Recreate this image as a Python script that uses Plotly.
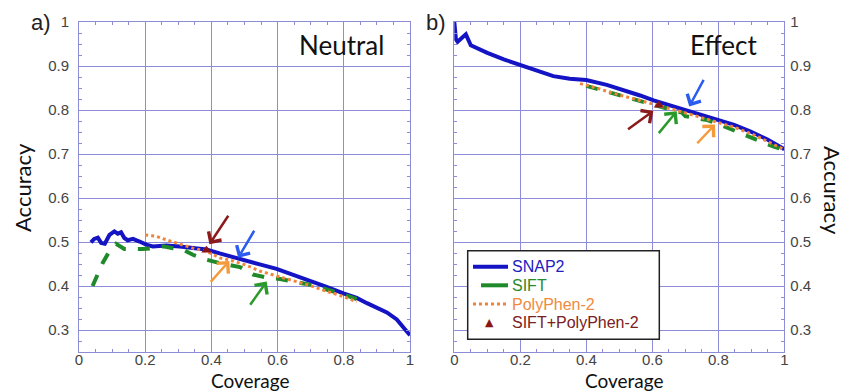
import plotly.graph_objects as go

# ---------------- data ----------------
# Panel a) Neutral
snap2_neu_x = [0.036, 0.046, 0.057, 0.067, 0.078, 0.092, 0.107, 0.117, 0.127, 0.137, 0.147, 0.163, 0.183, 0.203, 0.223,
               0.264, 0.304, 0.344, 0.385, 0.425, 0.466, 0.506, 0.546, 0.597, 0.647, 0.698, 0.748, 0.799, 0.839,
               0.87, 0.90, 0.93, 0.96, 0.98, 1.0]
snap2_neu_y = [0.499, 0.507, 0.510, 0.498, 0.496, 0.516, 0.524, 0.519, 0.522, 0.509, 0.504, 0.507, 0.501, 0.494, 0.490,
               0.492, 0.490, 0.486, 0.483, 0.474, 0.465, 0.458, 0.449, 0.439, 0.426, 0.413, 0.398, 0.383, 0.373,
               0.361, 0.350, 0.340, 0.324, 0.306, 0.288]

sift_neu_x = [0.041, 0.057, 0.072, 0.092, 0.112, 0.137, 0.163, 0.193, 0.223, 0.254, 0.284, 0.314, 0.344, 0.385,
              0.425, 0.466, 0.486, 0.526, 0.567, 0.607, 0.647, 0.698, 0.748, 0.799, 0.839]
sift_neu_y = [0.400, 0.426, 0.453, 0.479, 0.496, 0.484, 0.483, 0.484, 0.486, 0.490, 0.486, 0.483, 0.471, 0.460,
              0.452, 0.446, 0.443, 0.426, 0.419, 0.416, 0.411, 0.403, 0.392, 0.381, 0.370]

pph_neu_x = [0.200, 0.233, 0.264, 0.304, 0.344, 0.385, 0.425, 0.466, 0.506, 0.546, 0.597, 0.647, 0.698, 0.748,
             0.799, 0.839]
pph_neu_y = [0.516, 0.513, 0.505, 0.495, 0.486, 0.479, 0.464, 0.457, 0.447, 0.434, 0.423, 0.413, 0.401, 0.388,
             0.376, 0.364]

combo_neu_x = [0.385]
combo_neu_y = [0.481]

# Panel b) Effect
snap2_eff_x = [0.0, 0.005, 0.01, 0.02, 0.035, 0.05, 0.07, 0.10, 0.15, 0.20, 0.25, 0.30, 0.35, 0.40, 0.462, 0.503,
               0.563, 0.604, 0.665, 0.706, 0.746, 0.802, 0.848, 0.898, 0.949, 1.0]
snap2_eff_y = [1.0, 0.960, 0.955, 0.962, 0.972, 0.947, 0.940, 0.930, 0.915, 0.902, 0.890, 0.877, 0.871, 0.868, 0.857,
               0.848, 0.833, 0.822, 0.808, 0.800, 0.790, 0.778, 0.766, 0.751, 0.733, 0.711]

sift_eff_x = [0.40, 0.462, 0.523, 0.584, 0.624, 0.665, 0.690, 0.700, 0.726, 0.767, 0.807, 0.848, 0.898, 0.939,
              0.970, 1.0]
sift_eff_y = [0.855, 0.843, 0.829, 0.816, 0.807, 0.798, 0.794, 0.786, 0.783, 0.777, 0.766, 0.753, 0.738, 0.726,
              0.716, 0.710]

pph_eff_x = [0.381, 0.431, 0.482, 0.543, 0.604, 0.665, 0.726, 0.787, 0.848, 0.909, 0.959, 1.0]
pph_eff_y = [0.860, 0.850, 0.838, 0.825, 0.813, 0.801, 0.788, 0.775, 0.761, 0.743, 0.725, 0.710]

combo_eff_x = [0.620]
combo_eff_y = [0.811]

# arrows: (tip_x, tip_y, tail_x, tail_y, color)
arrows_neu = [
    (0.394, 0.495, 0.454, 0.563, "#8b1a1a"),
    (0.481, 0.464, 0.532, 0.529, "#2a5cf0"),
    (0.454, 0.457, 0.394, 0.406, "#f59a3a"),
    (0.567, 0.410, 0.514, 0.354, "#2a9a2a"),
]
arrows_eff = [
    (0.712, 0.808, 0.758, 0.872, "#2a5cf0"),
    (0.603, 0.798, 0.522, 0.754, "#8b1a1a"),
    (0.674, 0.797, 0.616, 0.744, "#2a9a2a"),
    (0.790, 0.767, 0.732, 0.721, "#f59a3a"),
]

legend_names = ["SNAP2", "SIFT", "PolyPhen-2", "SIFT+PolyPhen-2"]

y_tickvals = [0.3, 0.4, 0.5, 0.6, 0.7, 0.8, 0.9, 1.0]
y_ticktext = ["0.3", "0.4", "0.5", "0.6", "0.7", "0.8", "0.9", "1"]
x_tickvals = [0, 0.2, 0.4, 0.6, 0.8, 1.0]
x_ticktext = ["0", "0.2", "0.4", "0.6", "0.8", "1"]

# ---------------- styles ----------------
BLUE = "#1414c4"
GREEN = "#1f8a2a"
ORANGE = "#f0843a"
DARKRED = "#8b1414"
TXT_COLORS = ["#2020c0", "#2a8a2a", "#f08a40", "#7a2020"]
GRID = "rgb(140,140,215)"
TICKFONT = dict(family="Liberation Sans, Arial", size=15, color="#444444")
LBLFONT = "Lato, Calibri, sans-serif"

W, H = 845, 392
fig = go.Figure()


def add_panel(xa, ya, sx, sy, fx, fy, px, py, cx, cy):
    fig.add_trace(go.Scatter(x=sx, y=sy, xaxis=xa, yaxis=ya, mode="lines",
                             line=dict(color=BLUE, width=4), name=legend_names[0], showlegend=False))
    fig.add_trace(go.Scatter(x=fx, y=fy, xaxis=xa, yaxis=ya, mode="lines",
                             line=dict(color=GREEN, width=4, dash="dash"), name=legend_names[1],
                             showlegend=False))
    fig.add_trace(go.Scatter(x=px, y=py, xaxis=xa, yaxis=ya, mode="lines",
                             line=dict(color=ORANGE, width=3, dash="dot"), name=legend_names[2],
                             showlegend=False))
    fig.add_trace(go.Scatter(x=cx, y=cy, xaxis=xa, yaxis=ya, mode="markers",
                             marker=dict(color=DARKRED, symbol="triangle-up", size=9),
                             name=legend_names[3], showlegend=False))


add_panel("x", "y", snap2_neu_x, snap2_neu_y, sift_neu_x, sift_neu_y, pph_neu_x, pph_neu_y,
          combo_neu_x, combo_neu_y)
add_panel("x2", "y2", snap2_eff_x, snap2_eff_y, sift_eff_x, sift_eff_y, pph_eff_x, pph_eff_y,
          combo_eff_x, combo_eff_y)

annotations = []
for (arr, xr, yr) in [(arrows_neu, "x", "y"), (arrows_eff, "x2", "y2")]:
    for tx, ty, ax, ay, col in arr:
        annotations.append(dict(x=tx, y=ty, ax=ax, ay=ay, xref=xr, yref=yr, axref=xr, ayref=yr,
                                text="", showarrow=True, arrowhead=4, arrowsize=1.2,
                                arrowwidth=2.5, arrowcolor=col, standoff=0))


def px2x(p):
    return p / W


def px2y(p):
    return 1 - p / H


def label(text, x, y, size, family=LBLFONT, angle=0, color="#111"):
    return dict(text=text, x=px2x(x), y=px2y(y), xref="paper", yref="paper", showarrow=False,
                xanchor="center", yanchor="middle", textangle=angle,
                font=dict(family=family, size=size, color=color))


annotations += [
    label("a)", 41, 23, 22, family="Liberation Sans, Arial", color="#222"),
    label("b)", 436, 23, 22, family="Liberation Sans, Arial", color="#222"),
    label("Neutral", 341, 45, 26),
    label("Effect", 723, 45, 26),
    label("Accuracy", 22, 188, 22, angle=-90),
    label("Accuracy", 832, 190, 22, angle=90),
    label("Coverage", 251, 380, 19),
    label("Coverage", 624, 380, 19),
]

# ---- manual legend (box, samples, colored labels) ----
LEG_L, LEG_R, LEG_T, LEG_B = 467.7, 659.3, 250.7, 339.3
row_y = [266.7, 285.3, 304.0, 322.7]
shapes = [dict(type="rect", xref="paper", yref="paper", x0=px2x(LEG_L), x1=px2x(LEG_R),
               y0=px2y(LEG_B), y1=px2y(LEG_T), line=dict(color="#222", width=1.5), fillcolor="white",
               layer="above")]
samples = [(473, 508, BLUE, 4, "solid"), (481, 508, GREEN, 4, "solid"), (473, 508, ORANGE, 3, "dot")]
for (x0, x1, col, w, dash), yy in zip(samples, row_y[:3]):
    shapes.append(dict(type="line", xref="paper", yref="paper", x0=px2x(x0), x1=px2x(x1),
                       y0=px2y(yy), y1=px2y(yy), line=dict(color=col, width=w, dash=dash), layer="above"))
annotations.append(dict(text="▲", x=px2x(490), y=px2y(row_y[3]), xref="paper", yref="paper",
                        showarrow=False, xanchor="center", yanchor="middle",
                        font=dict(family="DejaVu Sans", size=11, color=DARKRED)))
for name, col, yy in zip(legend_names, TXT_COLORS, row_y):
    annotations.append(dict(text=name, x=px2x(510), y=px2y(yy), xref="paper", yref="paper",
                            showarrow=False, xanchor="left", yanchor="middle",
                            font=dict(family="Liberation Sans, Arial", size=16, color=col)))


def xaxis(domain, anchor):
    return dict(domain=domain, anchor=anchor, range=[0, 1], tickvals=x_tickvals, ticktext=x_ticktext,
                showgrid=True, gridcolor=GRID, gridwidth=1, showline=True, linecolor=GRID, linewidth=1,
                mirror="allticks", ticks="inside", ticklen=4, tickcolor=GRID,
                minor=dict(dtick=0.05, ticks="inside", ticklen=3, tickcolor=GRID, showgrid=False),
                zeroline=False, tickfont=TICKFONT, fixedrange=True, automargin=False,
                ticklabelstandoff=-6)


def yaxis(domain, anchor, side, standoff):
    return dict(domain=domain, anchor=anchor, side=side, range=[0.25, 1.0], tickvals=y_tickvals,
                ticktext=y_ticktext, showgrid=True, gridcolor=GRID, gridwidth=1, showline=True,
                linecolor=GRID, linewidth=1, mirror="allticks", ticks="inside", ticklen=4, tickcolor=GRID,
                minor=dict(dtick=0.025, ticks="inside", ticklen=3, tickcolor=GRID, showgrid=False),
                zeroline=False, tickfont=TICKFONT, fixedrange=True, automargin=False,
                ticklabelstandoff=standoff)


ydom = [px2y(352), px2y(22)]
fig.update_layout(
    width=W, height=H,
    margin=dict(l=0, r=0, t=0, b=0),
    paper_bgcolor="white", plot_bgcolor="white",
    xaxis=xaxis([px2x(79), px2x(410)], "y"),
    yaxis=yaxis(ydom, "x", "left", 6),
    xaxis2=xaxis([px2x(454.3), px2x(784.3)], "y2"),
    yaxis2=yaxis(ydom, "x2", "right", 2),
    annotations=annotations,
    shapes=shapes,
    showlegend=False,
)

fig.write_html("out.html", config={"displayModeBar": False},
               post_script="document.body.style.margin='0';")
